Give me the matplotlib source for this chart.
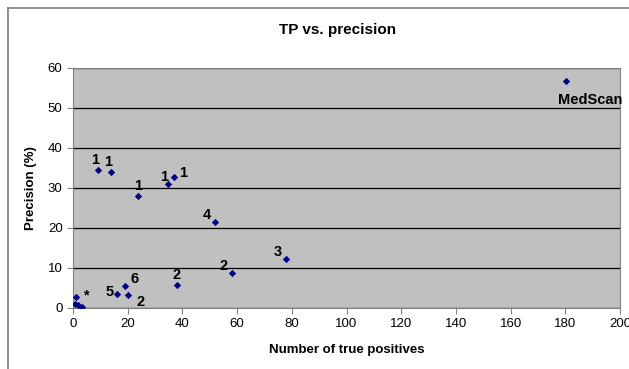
import matplotlib.pyplot as plt
from matplotlib.lines import Line2D

plt.rcParams['font.family'] = ['Liberation Sans', 'DejaVu Sans']

# data
tp = [9.0, 13.9, 23.9, 34.8, 36.8, 52.0, 58.1, 77.9, 37.9, 19.0, 16.0, 20.1,
      1.0, 0.7, 1.9, 3.2, 180.1]
precision = [34.5, 34.1, 28.1, 31.0, 32.8, 21.4, 8.8, 12.3, 5.75, 5.5, 3.4, 3.2,
             2.8, 1.0, 0.75, 0.3, 56.75]
labels = ['1', '1', '1', '1', '1', '4', '2', '3', '2', '6', '5', '2',
          '*', '', '', '', 'MedScan']
# label offsets in points
offsets = [(-2, 7), (-2, 7), (0, 7), (-3, 5), (7, 3), (-6, 5), (-6, 5), (-6, 5),
           (0, 7), (7, 5), (-5, 2), (9, -5), (8, 1), (0, 0), (0, 0), (0, 0), (18, -14)]

fig = plt.figure(figsize=(6.29, 3.69), dpi=100)
ax = fig.add_axes([73/629, 61/369, 547/629, 240/369])
ax.set_facecolor('#c0c0c0')

ax.scatter(tp, precision, marker='D', s=14, color='#000080', zorder=3, linewidths=0)
for x, y, lab, off in zip(tp, precision, labels, offsets):
    if lab:
        ax.annotate(lab, (x, y), xytext=off, textcoords='offset points',
                    ha='center', va='center', fontsize=10.5, fontweight='bold', zorder=4)

ax.set_xlim(0, 200)
ax.set_ylim(0, 60)
ax.set_xticks(range(0, 201, 20))
ax.set_yticks(range(0, 61, 10))
ax.yaxis.grid(True, color='black', linewidth=0.9)
ax.set_axisbelow(True)
ax.tick_params(labelsize=9.5, length=4, color='#808080')
for side in ['top', 'right', 'left', 'bottom']:
    ax.spines[side].set_color('#808080')

ax.set_xlabel('Number of true positives', fontsize=9.5, fontweight='bold', labelpad=10)
ax.set_ylabel('Precision (%)', fontsize=9.5, fontweight='bold', labelpad=8)
fig.text(338/629, 1 - 30/369, 'TP vs. precision', ha='center', va='center',
         fontsize=11, fontweight='bold')

# outer chart frame (left and top edges visible)
fig.add_artist(Line2D([8/629, 8/629], [0, 1 - 8/369], color='#808080', lw=1.2, transform=fig.transFigure))
fig.add_artist(Line2D([8/629, 1], [1 - 8/369, 1 - 8/369], color='#808080', lw=1.2, transform=fig.transFigure))

fig.savefig('out.png', dpi=100)
